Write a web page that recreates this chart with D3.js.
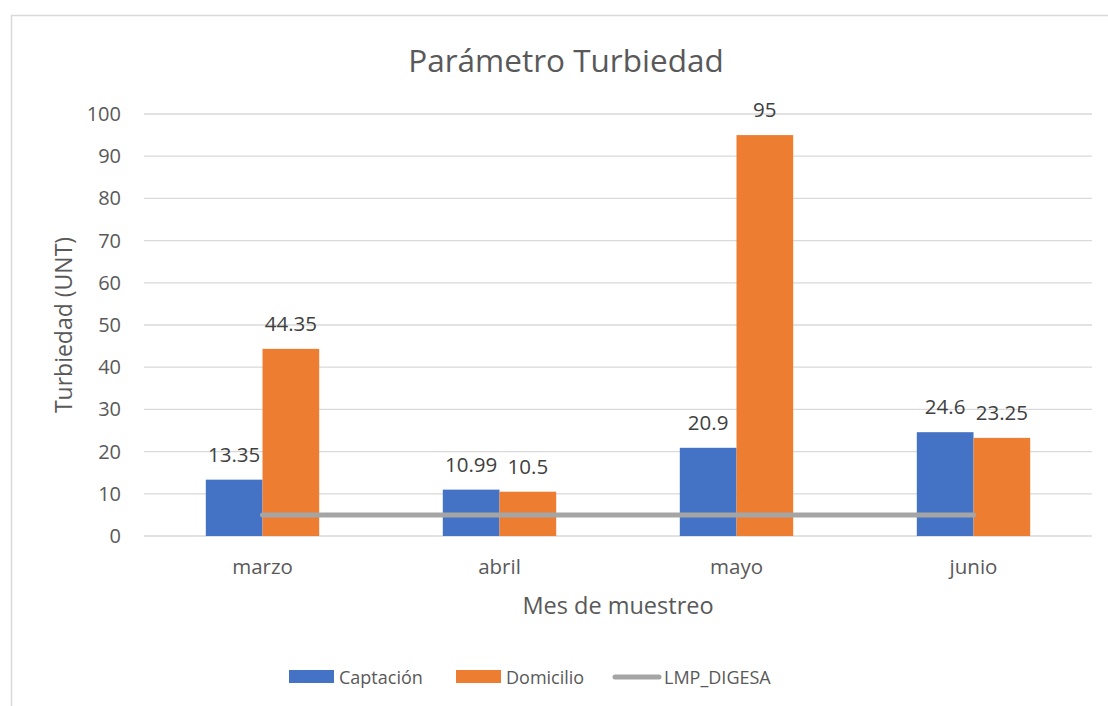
<!DOCTYPE html>
<html>
<head>
<meta charset="utf-8">
<script src="https://cdn.jsdelivr.net/npm/d3@7"></script>
<style>
  body { margin: 0; background: #fff; }
  text { font-family: "Open Sans", "Noto Sans", sans-serif; fill: #595959; }
</style>
</head>
<body>
<svg id="chart" width="1108" height="706"></svg>
<script>
const months = ["marzo", "abril", "mayo", "junio"];
const captacion = [13.35, 10.99, 20.9, 24.6];
const domicilio = [44.35, 10.5, 95, 23.25];
const lmpDigesa = [5, 5, 5, 5];
const yTicks = [0, 10, 20, 30, 40, 50, 60, 70, 80, 90, 100];

const series = [
  { name: "Captación", values: captacion, color: "#4472C4" },
  { name: "Domicilio", values: domicilio, color: "#ED7D31" }
];

const svg = d3.select("#chart");

// chart frame
svg.append("rect")
  .attr("x", 11.5).attr("y", 15.5)
  .attr("width", 1120).attr("height", 720)
  .attr("fill", "none").attr("stroke", "#d9d9d9").attr("stroke-width", 1.5);

const margin = { left: 144, right: 1092, top: 114, bottom: 536 };

const x = d3.scaleBand().domain(months).range([margin.left, margin.right]);
const x1 = d3.scaleBand().domain(series.map(s => s.name))
  .range([0, x.bandwidth()]).paddingInner(0).paddingOuter(1.09);
const y = d3.scaleLinear().domain([0, 100]).range([margin.bottom, margin.top]);

// gridlines
svg.append("g").selectAll("line").data(yTicks).enter().append("line")
  .attr("x1", margin.left).attr("x2", margin.right)
  .attr("y1", d => y(d)).attr("y2", d => y(d))
  .attr("stroke", "#d9d9d9").attr("stroke-width", 1.3);

// y axis labels
const yAxis = svg.append("g")
  .attr("transform", `translate(${margin.left - 23},0)`)
  .call(d3.axisLeft(y).tickValues(yTicks).tickSize(0).tickPadding(0));
yAxis.select(".domain").remove();
yAxis.selectAll("text")
  .style("font-size", "20px").style("fill", "#595959")
  .style("font-family", "'Open Sans', sans-serif");

// x axis labels
const xAxis = svg.append("g")
  .attr("transform", `translate(0,${margin.bottom + 23})`)
  .call(d3.axisBottom(x).tickSize(0).tickPadding(0));
xAxis.select(".domain").remove();
xAxis.selectAll("text")
  .style("font-size", "20.5px").style("fill", "#595959")
  .style("font-family", "'Open Sans', sans-serif");

// bars
const groups = svg.append("g").selectAll("g").data(months).enter().append("g")
  .attr("transform", d => `translate(${x(d)},0)`);

series.forEach(s => {
  groups.append("rect")
    .attr("x", x1(s.name))
    .attr("width", x1.bandwidth())
    .attr("y", (d, i) => y(s.values[i]))
    .attr("height", (d, i) => y(0) - y(s.values[i]))
    .attr("fill", s.color);
  groups.append("text")
    .attr("x", x1(s.name) + x1.bandwidth() / 2)
    .attr("y", (d, i) => y(s.values[i]) - 18)
    .attr("text-anchor", "middle")
    .style("font-size", "20.5px")
    .style("fill", "#404040")
    .text((d, i) => s.values[i]);
});

// LMP line
const line = d3.line()
  .x((d, i) => x(months[i]) + x.bandwidth() / 2)
  .y(d => y(d));
svg.append("path")
  .datum(lmpDigesa)
  .attr("d", line)
  .attr("fill", "none")
  .attr("stroke", "#A5A5A5")
  .attr("stroke-width", 5)
  .attr("stroke-linecap", "round");

// title
svg.append("text")
  .attr("x", 566).attr("y", 72)
  .attr("text-anchor", "middle")
  .style("font-size", "31.5px")
  .text("Parámetro Turbiedad");

// axis titles
svg.append("text")
  .attr("transform", "translate(72,325) rotate(-90)")
  .attr("text-anchor", "middle")
  .style("font-size", "23px")
  .text("Turbiedad (UNT)");

svg.append("text")
  .attr("x", 618).attr("y", 614)
  .attr("text-anchor", "middle")
  .style("font-size", "23.5px")
  .text("Mes de muestreo");

// legend
const legendItems = [
  { name: "Captación", type: "rect", color: "#4472C4", x: 289 },
  { name: "Domicilio", type: "rect", color: "#ED7D31", x: 456 },
  { name: "LMP_DIGESA", type: "line", color: "#A5A5A5", x: 613 }
];
const legend = svg.append("g").selectAll("g").data(legendItems).enter().append("g")
  .attr("transform", d => `translate(${d.x},677)`);
legend.filter(d => d.type === "rect").append("rect")
  .attr("x", 0).attr("y", -7).attr("width", 45).attr("height", 13)
  .attr("fill", d => d.color);
legend.filter(d => d.type === "line").append("line")
  .attr("x1", 2).attr("x2", 46).attr("y1", 0).attr("y2", 0)
  .attr("stroke", d => d.color).attr("stroke-width", 5)
  .attr("stroke-linecap", "round");
legend.append("text")
  .attr("x", d => d.type === "rect" ? 50 : 51)
  .attr("y", 6.5)
  .style("font-size", "18px")
  .text(d => d.name);
</script>
</body>
</html>
